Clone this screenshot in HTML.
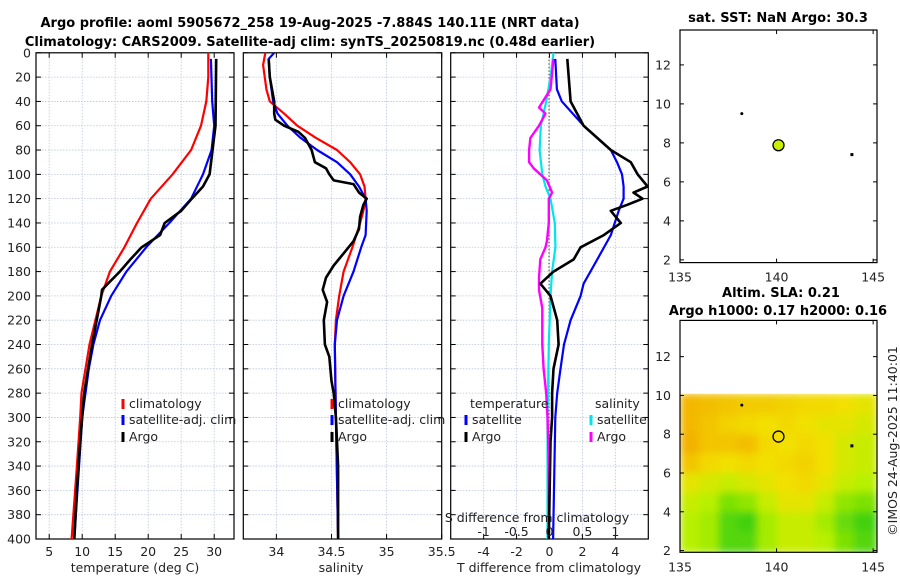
<!DOCTYPE html>
<html><head><meta charset="utf-8"><style>
body{margin:0;background:#fff;}
svg{display:block;font-family:"DejaVu Sans","Liberation Sans",sans-serif;}
.t{font-size:12.5px;fill:#222;}
.b{font-weight:bold;font-size:13px;fill:#000;}
</style></head><body>
<svg id="c" width="900" height="580" viewBox="0 0 900 580">
<text class="b" x="310" y="27" text-anchor="middle">Argo profile: aoml 5905672_258 19-Aug-2025 -7.884S 140.11E (NRT data)</text>
<text class="b" x="310" y="46" text-anchor="middle">Climatology: CARS2009. Satellite-adj clim: synTS_20250819.nc (0.48d earlier)</text>
<text class="b" x="778" y="22" text-anchor="middle">sat. SST: NaN Argo: 30.3</text>
<text class="b" x="781" y="297" text-anchor="middle">Altim. SLA: 0.21</text>
<text class="b" x="778" y="315" text-anchor="middle">Argo h1000: 0.17 h2000: 0.16</text>
<text class="t" transform="translate(897,441) rotate(-90)" text-anchor="middle">©IMOS 24-Aug-2025 11:40:01</text>
</svg>
<script>
// ---- data ----
const depthTicks=[0,20,40,60,80,100,120,140,160,180,200,220,240,260,280,300,320,340,360,380,400];
const tTicks=[5,10,15,20,25,30];
const sTicks=[34,34.5,35,35.5];
const dTTicks=[-4,-2,0,2,4];
const dSTicks=[-1,-0.5,0,0.5,1];
const tClimDepth=[0,20,40,60,80,100,120,140,160,180,200,240,280,300,340,400];
const tClim=[29.1,29.1,28.8,28.0,26.5,23.7,20.4,18.3,16.4,14.2,12.9,11.1,9.9,9.7,9.2,8.4];
const tSatDepth=[5,40,60,80,100,120,140,160,180,200,220,240,260,300,400];
const tSat=[29.5,29.7,30.0,29.6,28.3,26.5,23.2,19.7,16.7,14.4,12.7,11.7,11.0,10.0,8.8];
const tArgoDepth=[5,60,100,110,120,130,140,150,160,170,180,190,195,200,220,240,260,280,320,360,400];
const tArgo=[30.3,30.2,29.3,28.3,26.6,25.0,22.5,21.8,19.0,17.3,15.7,13.9,13.0,12.9,12.2,11.5,10.9,10.3,9.7,9.2,8.8];
const sClimDepth=[0,10,30,40,50,60,70,80,90,100,110,120,130,140,160,180,200,220,240,300,400];
const sClim=[33.90,33.88,33.91,33.94,34.07,34.19,34.36,34.55,34.67,34.76,34.80,34.81,34.79,34.76,34.69,34.61,34.57,34.54,34.53,34.54,34.56];
const sSatDepth=[0,5,20,40,50,60,70,80,90,100,110,120,130,150,160,180,200,220,240,300,400];
const sSat=[33.98,33.93,33.94,33.97,34.01,34.10,34.22,34.37,34.55,34.67,34.75,34.81,34.82,34.81,34.77,34.70,34.61,34.55,34.53,34.54,34.56];
const sArgoDepth=[5,20,30,40,50,55,60,65,70,80,90,95,100,105,108,115,120,125,135,145,155,165,175,185,195,205,220,240,250,270,280,300,340,400];
const sArgo=[33.93,33.94,33.96,33.98,33.98,33.99,34.07,34.20,34.26,34.32,34.35,34.45,34.48,34.52,34.70,34.75,34.82,34.79,34.76,34.75,34.70,34.61,34.52,34.45,34.42,34.46,34.43,34.44,34.48,34.50,34.52,34.54,34.56,34.56];
const dTArgoDepth=[5,40,60,80,90,100,110,115,120,125,130,140,150,160,170,180,190,200,220,240,260,280,300,320,400];
const dTArgo=[1.08,1.28,2.07,3.72,4.94,5.35,5.96,5.1,5.65,4.74,3.72,4.33,3.3,1.89,1.47,0.24,-0.55,0.06,0.47,0.55,0.24,0.16,0.16,0.06,-0.04];
const dTSatDepth=[5,30,40,60,80,90,100,110,120,130,150,170,190,200,220,240,260,280,300,400];
const dTSat=[0.35,0.45,0.75,2.07,3.72,4.1,4.4,4.5,4.5,4.2,3.72,2.9,2.07,1.89,1.28,0.88,0.67,0.47,0.35,0.22];
const dSSatDepth=[0,20,40,60,80,100,110,120,140,160,180,200,240,300,400];
const dSSat=[0.06,0.015,-0.05,-0.13,-0.15,-0.11,-0.06,0.015,0.08,0.09,0.04,0.015,-0.01,-0.03,-0.03];
const dSArgoDepth=[5,30,45,50,60,70,80,90,95,100,105,115,120,140,155,160,170,185,195,210,240,260,280,300,340,400];
const dSArgo=[0.06,0.015,-0.16,-0.06,-0.16,-0.29,-0.31,-0.31,-0.24,-0.14,-0.04,0.04,-0.01,-0.01,-0.04,-0.06,-0.14,-0.16,-0.16,-0.11,-0.11,-0.09,-0.05,-0.03,-0.01,-0.01];
const latTicks=[2,4,6,8,10,12];
const lonTicks=[135,140,145];
const floatLon=[138.2,140.1,143.9];
const floatLat=[9.5,7.88,7.4];
const slaLonEdges=[135,136,137,138,139,140,141,142,143,144,145.2];
const slaLatEdges=[10.1,9,8,7,6,5,4,3,1.9];
const slaGrid=[
[0.85,0.8,0.75,0.7,0.7,0.65,0.6,0.6,0.55,0.5],
[0.85,0.75,0.65,0.6,0.55,0.6,0.55,0.5,0.5,0.45],
[0.9,0.75,0.75,0.8,0.6,0.55,0.6,0.55,0.45,0.4],
[0.75,0.6,0.55,0.6,0.55,0.6,0.65,0.55,0.45,0.4],
[0.5,0.45,0.4,0.45,0.5,0.55,0.6,0.5,0.4,0.35],
[0.4,0.35,0.2,0.25,0.4,0.5,0.5,0.4,0.25,0.2],
[0.35,0.3,0.1,0.05,0.3,0.4,0.4,0.3,0.15,0.05],
[0.35,0.3,0.1,0.1,0.3,0.4,0.4,0.35,0.2,0.1]];

// ---- drawing ----
const svg=document.getElementById('c');
const NS='http://www.w3.org/2000/svg';
function mk(tag,at,parent){const e=document.createElementNS(NS,tag);for(const k in at)e.setAttribute(k,at[k]);(parent||svg).appendChild(e);return e;}
const Y0=52.8,Y1=539;
const yD=d=>Y0+(Y1-Y0)*d/400;
function lin(d0,d1,r0,r1){return v=>r0+(v-d0)*(r1-r0)/(d1-d0);}
const xT=lin(3,33,36,234), xS=lin(33.7,35.5,243.3,441.7), xdT=lin(-6,6,450.7,648.3), xdS=lin(-1.5,1.5,450.7,648.3);
const panels=[[36,234],[243.3,441.7],[450.7,648.3]];
panels.forEach((p,i)=>{
  const g=mk('g',{});
  
  
  depthTicks.forEach(d=>{
    mk('line',{x1:p[0],x2:p[1],y1:yD(d),y2:yD(d),stroke:'#b8c4e0','stroke-width':0.8,'stroke-dasharray':'1.5,1.5'},g);
    mk('line',{x1:p[0],x2:p[0]+5,y1:yD(d),y2:yD(d),stroke:'#000'},g);
    mk('line',{x1:p[1]-5,x2:p[1],y1:yD(d),y2:yD(d),stroke:'#000'},g);
  });
  const xt=[tTicks,sTicks,dTTicks][i], xf=[xT,xS,xdT][i];
  xt.forEach(v=>{const x=xf(v);
    mk('line',{x1:x,x2:x,y1:Y0,y2:Y1,stroke:'#b8c4e0','stroke-width':0.8,'stroke-dasharray':'1.5,1.5'},g);
    mk('line',{x1:x,x2:x,y1:Y1-5,y2:Y1,stroke:'#000'},g);
    mk('line',{x1:x,x2:x,y1:Y0,y2:Y0+5,stroke:'#000'},g);
    const t=mk('text',{x:x,y:556,'text-anchor':'middle',class:'t'},g);t.textContent=String(v);
    
    
  });
  mk('rect',{x:p[0],y:Y0,width:p[1]-p[0],height:Y1-Y0,fill:'none',stroke:'#000','stroke-width':1.2},g);
});
depthTicks.forEach(d=>{const t=mk('text',{x:31,y:yD(d)+4.5,'text-anchor':'end',class:'t'});t.textContent=d;
  
  });
[['temperature (deg C)',135],['salinity',341],['T difference from climatology',549]].forEach(a=>{
  const t=mk('text',{x:a[1],y:572,'text-anchor':'middle',class:'t'});t.textContent=a[0];
  
  });
mk('line',{x1:549,x2:549,y1:Y0,y2:Y1,stroke:'#444','stroke-dasharray':'1.5,2'});
function line(xs,ds,xf,col,name,w){
  const pts=xs.map((v,i)=>xf(v).toFixed(1)+','+yD(ds[i]).toFixed(1)).join(' ');
  const e=mk('polyline',{points:pts,fill:'none',stroke:col,'stroke-width':w||2.2,'stroke-linejoin':'round'});
  
  
}
line(tClim,tClimDepth,xT,'#ff0000','temp-climatology-line');
line(tSat,tSatDepth,xT,'#0000ff','temp-satellite-line');
line(tArgo,tArgoDepth,xT,'#000','temp-argo-line',2.6);
line(sClim,sClimDepth,xS,'#ff0000','sal-climatology-line');
line(sSat,sSatDepth,xS,'#0000ff','sal-satellite-line');
line(sArgo,sArgoDepth,xS,'#000','sal-argo-line',2.6);
line(dSSat,dSSatDepth,xdS,'#00e5ee','dsal-satellite-line');
line(dSArgo,dSArgoDepth,xdS,'#ff00ff','dsal-argo-line',2.4);
line(dTSat,dTSatDepth,xdT,'#0000ff','dtemp-satellite-line');
line(dTArgo,dTArgoDepth,xdT,'#000','dtemp-argo-line',2.6);
// S diff axis labels
{const t=mk('text',{x:537,y:522,'text-anchor':'middle',class:'t'});t.textContent='S difference from climatology';

}
dSTicks.forEach(v=>{const t=mk('text',{x:xdS(v),y:536,'text-anchor':'middle',class:'t'});t.textContent=String(v);
  
  });
// legends
function leg(x,y,col,txt){
  mk('line',{x1:x,x2:x,y1:y-9,y2:y+1,stroke:col,'stroke-width':3});
  const t=mk('text',{x:x+6,y:y,class:'t'});t.textContent=txt;
  
  
}
leg(123,408,'#ff0000','climatology');leg(123,424,'#0000ff','satellite-adj. clim');leg(123,441,'#000','Argo');
leg(332,408,'#ff0000','climatology');leg(332,424,'#0000ff','satellite-adj. clim');leg(332,441,'#000','Argo');
{const t=mk('text',{x:470,y:408,class:'t'});t.textContent='temperature';}
{const t=mk('text',{x:595,y:408,class:'t'});t.textContent='salinity';}
leg(466,424,'#0000ff','satellite');leg(466,441,'#000','Argo');
leg(591,424,'#00e5ee','satellite');leg(591,441,'#ff00ff','Argo');
// maps
const xL=lin(135,145.2,680,877);
function slaCol(v){
  const stops=[[0,[46,204,15]],[0.35,[184,240,0]],[0.55,[242,224,0]],[1,[243,163,0]]];
  for(let i=1;i<stops.length;i++){if(v<=stops[i][0]){const a=stops[i-1],b=stops[i],f=(v-a[0])/(b[0]-a[0]);
    return 'rgb('+a[1].map((c,k)=>Math.round(c+(b[1][k]-c)*f)).join(',')+')';}}
  return 'rgb(243,163,0)';
}
function map(top,bot,lat0,lat1,name,heat){
  const yL=lin(lat0,lat1,bot,top);
  const g=mk('g',{});
  
  
  if(heat){
    const hg=mk('g',{filter:'url(#bl)'},g);
    slaGrid.forEach((row,r)=>row.forEach((v,c)=>{
      const x0=xL(slaLonEdges[c]),x1=xL(slaLonEdges[c+1]),y0=yL(slaLatEdges[r]),y1=yL(slaLatEdges[r+1]);
      const cell=mk('rect',{x:x0,y:y0,width:x1-x0+0.5,height:y1-y0+0.5,fill:slaCol(v)},hg);
      
      
    }));
  }
  latTicks.forEach(v=>{const y=yL(v);
    mk('line',{x1:680,x2:684,y1:y,y2:y,stroke:'#000'},g);mk('line',{x1:873,x2:877,y1:y,y2:y,stroke:'#000'},g);
    const t=mk('text',{x:671,y:y+4.5,'text-anchor':'end',class:'t'},g);t.textContent=v;
    
    });
  lonTicks.forEach(v=>{const x=xL(v);
    mk('line',{x1:x,x2:x,y1:bot-4,y2:bot,stroke:'#000'},g);mk('line',{x1:x,x2:x,y1:top,y2:top+4,stroke:'#000'},g);
    const t=mk('text',{x:x,y:bot+19,'text-anchor':'middle',class:'t'},g);t.textContent=v;
    
    });
  mk('rect',{x:680,y:top,width:197,height:bot-top,fill:'none',stroke:'#000','stroke-width':1.2},g);
  mk('circle',{cx:xL(floatLon[0]),cy:yL(floatLat[0]),r:1.5,fill:'#000'},g);
  mk('rect',{x:xL(floatLon[2])-1.5,y:yL(floatLat[2])-1.5,width:3,height:3,fill:'#000'},g);
  const c=mk('circle',{cx:xL(floatLon[1]),cy:yL(floatLat[1]),r:5.5,fill:heat?'none':'#ccee00',stroke:'#000','stroke-width':1.3},g);
  
  
}
const defs=mk('defs',{});const f=mk('filter',{id:'bl'},defs);mk('feGaussianBlur',{stdDeviation:4},f);
const clip=mk('clipPath',{id:'mc'},defs);mk('rect',{x:680,y:393.8,width:197,height:158.5},clip);
map(30,262.6,1.86,13.79,'sst-map',false);
map(320.4,552.3,1.91,13.87,'sla-map',true);
svg.lastChild.firstChild.setAttribute('clip-path','url(#mc)');
</script>
</body></html>
